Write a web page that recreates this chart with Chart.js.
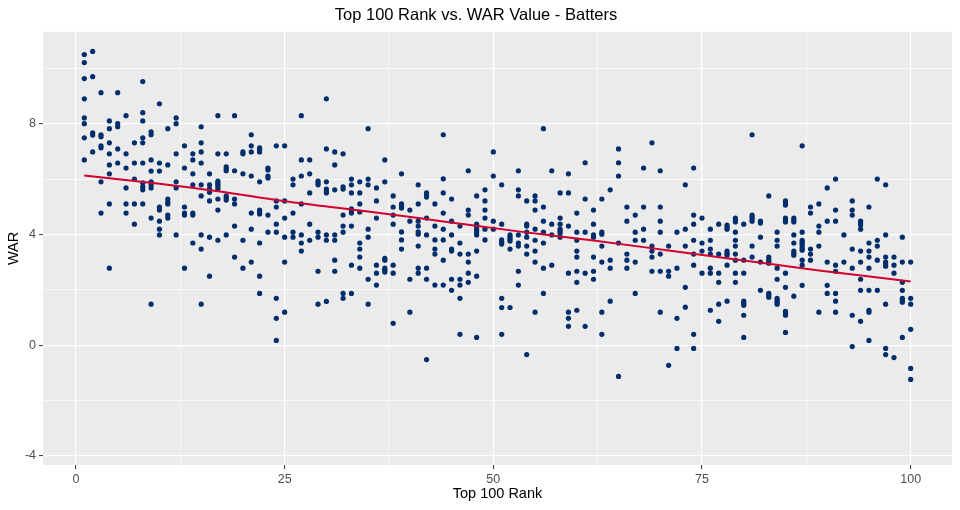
<!DOCTYPE html>
<html>
<head>
<meta charset="utf-8">
<script src="https://cdn.jsdelivr.net/npm/chart.js@4.4.0/dist/chart.umd.min.js"></script>
<style>
  html, body { margin: 0; padding: 0; background: #fff; }
  #wrap { width: 960px; height: 510px; }
</style>
</head>
<body>
<div id="wrap"><canvas id="myChart" width="960" height="510"></canvas></div>
<script>
// WAR values for each Top 100 rank (index 0 = rank 1)
const war = [
  [10.50, 10.21, 9.63, 8.90, 8.21, 8.00, 7.49, 6.69],
  [10.61, 9.70, 7.67, 7.59, 6.98],
  [9.12, 7.60, 7.53, 7.20, 7.13, 5.90, 4.77],
  [8.10, 7.82, 7.31, 6.91, 6.51, 6.19, 5.10, 2.78],
  [9.12, 8.00, 7.89, 7.09, 6.58],
  [8.29, 6.91, 6.40, 5.68, 5.10, 4.77],
  [7.31, 6.58, 6.00, 5.10, 4.37],
  [9.52, 8.40, 8.10, 7.49, 7.31, 6.58, 5.86, 5.72, 5.61, 5.10],
  [7.71, 7.60, 6.69, 6.29, 5.90, 5.79, 5.68, 4.59, 1.48],
  [8.72, 6.58, 6.29, 4.99, 4.88, 4.48, 4.19, 3.98],
  [7.82, 6.51, 5.28, 5.17, 5.10, 4.70, 4.59],
  [8.21, 8.00, 6.91, 5.90, 5.68, 3.98],
  [7.20, 6.40, 4.99, 4.77, 4.70, 2.78],
  [6.91, 6.69, 6.19, 5.79, 4.77, 4.70, 3.69],
  [7.89, 7.31, 6.98, 6.58, 5.79, 5.39, 3.98, 3.47, 1.48],
  [6.19, 5.79, 5.65, 5.52, 5.21, 3.90, 2.49],
  [8.29, 6.91, 5.93, 5.86, 5.79, 5.72, 5.64, 5.28, 4.88, 3.79],
  [6.91, 6.44, 6.37, 6.30, 5.39, 5.32, 5.24, 3.98],
  [8.29, 6.30, 5.28, 5.10, 4.30, 3.18],
  [6.98, 6.91, 6.19, 3.79, 2.78],
  [7.60, 7.20, 6.98, 6.11, 4.77, 4.19, 3.00],
  [7.13, 7.06, 6.98, 5.90, 4.88, 4.81, 4.74, 3.69, 2.49, 1.87],
  [6.40, 6.33, 6.11, 6.04, 4.70, 4.08],
  [7.20, 5.21, 4.99, 4.37, 4.08, 1.69, 0.97, 0.17],
  [7.20, 5.21, 4.59, 3.90, 3.00, 1.19],
  [6.00, 5.79, 4.77, 4.08, 3.90],
  [8.29, 6.69, 6.11, 5.10, 3.98, 3.69, 3.40],
  [6.69, 6.19, 5.50, 4.37, 3.79],
  [5.93, 5.86, 5.79, 4.08, 3.90, 2.67, 1.48],
  [8.90, 7.09, 5.90, 5.64, 5.57, 5.50, 3.98, 3.79, 1.58],
  [6.98, 6.51, 5.61, 3.98, 3.79, 3.07, 2.67],
  [6.91, 5.72, 5.64, 4.70, 4.30, 4.08, 1.87, 1.69],
  [6.00, 5.79, 5.50, 4.92, 4.85, 4.77, 4.30, 2.89, 1.87],
  [5.90, 5.50, 5.10, 4.81, 3.69, 3.47, 3.18, 2.78],
  [7.82, 6.00, 5.79, 4.19, 3.90, 2.38, 1.48],
  [5.68, 5.21, 4.59, 2.89, 2.60, 2.17],
  [6.69, 5.90, 3.14, 3.07, 2.78, 2.71, 2.64],
  [5.39, 4.99, 4.70, 4.37, 2.89, 2.60, 0.79],
  [6.19, 5.10, 5.03, 4.95, 4.09, 3.80, 3.47],
  [4.88, 4.48, 2.38, 1.19],
  [5.79, 5.10, 4.48, 4.30, 4.09, 4.01, 3.58, 2.78, 2.60],
  [5.50, 5.43, 5.35, 4.59, 3.98, 2.78, 2.38, -0.52],
  [5.10, 4.30, 3.80, 3.47, 3.29, 2.17],
  [7.60, 6.01, 5.50, 4.77, 4.19, 3.80, 3.07, 2.17],
  [5.28, 4.48, 3.98, 3.47, 3.40, 2.38, 1.98],
  [4.30, 3.69, 3.29, 2.38, 2.17, 1.69, 0.39],
  [6.30, 4.88, 4.70, 3.29, 3.00, 2.60, 2.27],
  [5.39, 4.37, 4.27, 4.19, 4.12, 4.05, 3.98, 3.40, 2.49, 0.28],
  [5.61, 5.21, 4.88, 4.59, 4.19, 3.80],
  [6.98, 6.11, 4.48, 4.19],
  [5.79, 4.37, 3.80, 3.72, 3.65, 1.69, 1.36, 0.39],
  [3.98, 3.90, 3.83, 3.76, 3.47, 1.36],
  [6.30, 5.61, 5.39, 3.98, 3.69, 3.58, 2.67, 2.17],
  [5.21, 4.37, 4.30, 4.08, 3.90, 3.58, 3.29, -0.34],
  [5.39, 5.21, 4.88, 4.19, 3.79, 3.40, 3.00, 1.19],
  [7.82, 4.99, 4.48, 4.08, 3.69, 2.78, 1.87],
  [6.30, 4.37, 3.98, 2.89],
  [5.50, 4.59, 4.37, 4.19, 4.12, 4.05, 3.90],
  [6.19, 5.50, 4.30, 2.60, 1.19, 0.97, 0.68],
  [4.77, 4.08, 3.79, 3.40, 3.18, 2.67, 2.27, 1.26],
  [6.59, 5.28, 4.08, 2.60, 0.68],
  [4.88, 4.37, 3.98, 3.90, 3.18, 2.67, 2.38],
  [5.28, 4.08, 4.01, 3.58, 3.00, 1.19, 0.39],
  [5.61, 3.07, 2.78, 1.59],
  [7.09, 6.59, 6.11, 3.69, -1.13],
  [4.99, 4.48, 3.29, 3.07, 2.78],
  [4.70, 4.08, 3.79, 3.00, 1.87],
  [6.40, 4.99, 4.19, 3.79],
  [7.31, 3.58, 3.40, 3.18, 2.67],
  [6.30, 4.99, 4.48, 4.08, 3.29, 2.67, 1.19],
  [3.58, 2.67, 2.49, -0.73],
  [4.08, 2.78, 0.97, -0.12],
  [5.79, 4.19, 3.58, 2.09, 1.37],
  [6.40, 4.70, 4.37, 3.79, 3.29, 2.89, 0.39, -0.12],
  [4.59, 3.69, 3.40, 2.60],
  [4.19, 3.79, 3.47, 3.29, 2.78, 2.60, 1.26],
  [4.37, 3.29, 2.60, 2.27, 1.48, 0.86],
  [4.34, 4.27, 4.19, 3.40, 3.32, 3.25, 2.89, 1.59],
  [4.59, 4.52, 4.45, 4.08, 3.79, 3.58, 3.29, 3.07, 2.60, 2.27],
  [4.37, 3.07, 2.60, 1.59, 1.51, 1.44, 1.08, 0.28],
  [7.60, 4.70, 4.63, 4.56, 4.48, 3.58, 3.18],
  [4.48, 4.41, 3.90, 3.00, 1.98],
  [5.39, 3.18, 3.11, 3.03, 2.96, 1.87, 1.80, 1.73],
  [4.08, 3.79, 3.58, 2.78, 2.38, 1.69, 1.62, 1.55, 1.48],
  [5.21, 5.14, 5.06, 4.59, 4.52, 4.45, 2.60, 2.09, 1.22, 1.15, 1.08, 0.46],
  [4.59, 4.52, 4.45, 3.98, 3.69, 3.40, 3.32, 3.25, 1.77],
  [7.20, 4.08, 3.79, 3.72, 3.65, 3.58, 3.50, 3.43, 3.07, 2.89, 2.16],
  [4.99, 4.77, 3.47, 3.29, 3.07],
  [5.10, 4.30, 4.08, 3.58, 1.19],
  [5.68, 4.48, 3.00, 2.16, 1.87],
  [6.00, 4.88, 4.48, 2.89, 2.67, 1.87, 1.59, 1.19],
  [3.98, 3.00],
  [5.21, 4.88, 4.70, 3.47, 2.78, 1.08, -0.05],
  [4.48, 4.41, 4.34, 4.19, 3.40, 3.00, 2.38, 1.98, 0.86],
  [4.99, 3.69, 3.40, 3.18, 2.78, 1.98, 1.26, 1.19, 0.17],
  [6.00, 3.79, 3.58, 3.07, 1.98],
  [5.79, 3.98, 3.18, 3.00, 2.93, 2.85, 1.48, -0.12, -0.34],
  [3.18, 2.89, 2.60, -0.45],
  [3.90, 3.00, 2.27, 1.98, 1.69, 1.62, 1.55, 0.28],
  [3.00, 1.69, 1.48, 0.57, -0.84, -1.24]
];

// smoothed trend
const smoothRank = [1, 10, 17, 25, 35, 44, 53, 62, 71, 80, 89, 100];
const smoothWar = [6.13, 5.83, 5.56, 5.20, 4.83, 4.47, 4.11, 3.78, 3.42, 3.06, 2.70, 2.30];

const xTicks = [0, 12.5, 25, 37.5, 50, 62.5, 75, 87.5, 100];
const xLabels = [0, 25, 50, 75, 100];
const yTicks = [-4, -2, 0, 2, 4, 6, 8, 10];
const yLabels = [-4, 0, 4, 8];

const points = [];
war.forEach((vals, i) => vals.forEach(v => points.push({ x: i + 1, y: v })));
const trend = smoothRank.map((r, i) => ({ x: r, y: smoothWar[i] }));

const panelBg = {
  id: 'panelBg',
  beforeDraw(chart) {
    const { ctx, chartArea: a } = chart;
    ctx.save();
    ctx.fillStyle = '#ffffff';
    ctx.fillRect(0, 0, chart.width, chart.height);
    ctx.fillStyle = '#EBEBEB';
    ctx.fillRect(a.left, a.top, a.right - a.left, a.bottom - a.top);
    ctx.restore();
  }
};

Chart.defaults.font.family = '"Liberation Sans", Arial, sans-serif';

const ctx = document.getElementById('myChart').getContext('2d');
const chart = new Chart(ctx, {
  type: 'scatter',
  data: {
    datasets: [
      {
        type: 'line',
        data: trend,
        borderColor: '#D2002C',
        borderWidth: 2,
        pointRadius: 0,
        tension: 0.4,
        cubicInterpolationMode: 'monotone',
        fill: false,
        order: 0
      },
      {
        data: points,
        backgroundColor: '#002D6B',
        borderWidth: 0,
        pointRadius: 2.6,
        order: 1
      }
    ]
  },
  options: {
    responsive: false,
    animation: false,
    layout: { padding: { left: 0, right: 8, top: 0, bottom: 0 } },
    plugins: {
      legend: { display: false },
      tooltip: { enabled: false },
      title: {
        display: true,
        text: 'Top 100 Rank vs. WAR Value - Batters',
        color: '#000',
        font: { size: 16.5, weight: 'normal' },
        padding: { top: 6, bottom: 6 }
      }
    },
    scales: {
      x: {
        type: 'linear',
        min: -3.95,
        max: 104.95,
        afterBuildTicks: s => { s.ticks = xTicks.map(v => ({ value: v })); },
        afterFit: s => { s.height = 45; },
        ticks: {
          autoSkip: false,
          maxRotation: 0,
          padding: 3,
          color: '#4D4D4D',
          font: { size: 12.5 },
          callback: v => xLabels.includes(v) ? String(v) : ''
        },
        grid: {
          color: '#ffffff',
          lineWidth: c => xLabels.includes(c.tick && c.tick.value) ? 1.2 : 0.6,
          tickLength: 4,
          tickWidth: 1,
          tickColor: c => xLabels.includes(c.tick && c.tick.value) ? '#333333' : 'rgba(0,0,0,0)'
        },
        border: { display: false },
        title: {
          display: true,
          text: 'Top 100 Rank',
          color: '#000',
          font: { size: 14.5 },
          padding: { top: 2, bottom: 7 }
        }
      },
      y: {
        type: 'linear',
        min: -4.33,
        max: 11.32,
        afterBuildTicks: s => { s.ticks = yTicks.map(v => ({ value: v })); },
        afterFit: s => { s.width = 43; },
        ticks: {
          autoSkip: false,
          padding: 3,
          color: '#4D4D4D',
          font: { size: 12.5 },
          callback: v => yLabels.includes(v) ? String(v) : ''
        },
        grid: {
          color: '#ffffff',
          lineWidth: c => yLabels.includes(c.tick && c.tick.value) ? 1.2 : 0.6,
          tickLength: 4,
          tickWidth: 1,
          tickColor: c => yLabels.includes(c.tick && c.tick.value) ? '#333333' : 'rgba(0,0,0,0)'
        },
        border: { display: false },
        title: {
          display: true,
          text: 'WAR',
          color: '#000',
          font: { size: 14.5 },
          padding: { top: 5, bottom: 2 }
        }
      }
    }
  },
  plugins: [panelBg]
});
</script>
</body>
</html>
